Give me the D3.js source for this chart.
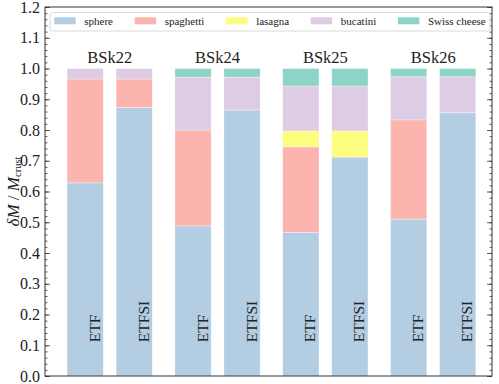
<!DOCTYPE html>
<html>
<head>
<meta charset="utf-8">
<script src="https://cdn.jsdelivr.net/npm/d3@7"></script>
<style>
  body { margin: 0; background: #fff; }
  svg { display: block; }
  svg text { font-family: "Liberation Serif", "DejaVu Serif", serif; }
</style>
</head>
<body>
<svg id="chart" width="499" height="384"></svg>
<script>
  // models and methods, one bar per (model, method)
  const models = ['BSk22', 'BSk24', 'BSk25', 'BSk26'];
  const methods = ['ETF', 'ETFSI'];
  const phases = ['sphere', 'spaghetti', 'lasagna', 'bucatini', 'Swiss cheese'];

  // fraction of crust mass per phase, bars in order BSk22 ETF, BSk22 ETFSI, BSk24 ETF, ...
  const sphere    = [0.628, 0.873, 0.488, 0.865, 0.467, 0.712, 0.510, 0.856];
  const spaghetti = [0.338, 0.093, 0.312, 0.000, 0.278, 0.000, 0.323, 0.000];
  const lasagna   = [0.000, 0.000, 0.000, 0.000, 0.052, 0.085, 0.000, 0.000];
  const bucatini  = [0.034, 0.034, 0.172, 0.107, 0.146, 0.146, 0.140, 0.117];
  const swiss     = [0.000, 0.000, 0.028, 0.028, 0.057, 0.057, 0.027, 0.027];

  const yTicks = [0, 0.1, 0.2, 0.3, 0.4, 0.5, 0.6, 0.7, 0.8, 0.9, 1.0, 1.1, 1.2];

  const colors = ['#b3cde3', '#fbb4ae', '#fcfc7e', '#decbe4', '#8dd3c7'];
  const series = [sphere, spaghetti, lasagna, bucatini, swiss];

  (function () {
    // bar positions: groups spaced 2.2 apart, methods 1 apart
    const rows = [];
    models.forEach((m, gi) => {
      methods.forEach((t, mi) => {
        const i = gi * 2 + mi;
        const row = { model: m, method: t, pos: gi * 2.2 + mi };
        phases.forEach((p, k) => { row[p] = series[k][i]; });
        rows.push(row);
      });
    });

    const svg = d3.select('#chart');
    const x0 = 45, x1 = 492, y0 = 7, y1 = 376;

    const x = d3.scaleLinear().domain([-0.82, 8.3]).range([x0, x1]);
    const y = d3.scaleLinear().domain([0, 1.2]).range([y1, y0]);
    const barW = 0.74;

    const stack = d3.stack().keys(phases)(rows);

    const g = svg.append('g');
    stack.forEach((layer, k) => {
      g.selectAll(null)
        .data(layer.filter(d => d[1] - d[0] > 0))
        .enter().append('rect')
        .attr('x', d => x(d.data.pos - barW / 2))
        .attr('width', x(barW) - x(0))
        .attr('y', d => y(d[1]))
        .attr('height', d => y(d[0]) - y(d[1]))
        .attr('fill', colors[k])
        .attr('stroke', '#fff')
        .attr('stroke-opacity', 0.6)
        .attr('stroke-width', 0.6);
    });

    // method labels inside the bars
    g.selectAll(null)
      .data(rows)
      .enter().append('text')
      .attr('transform', d => `translate(${x(d.pos) + 14.5},${y(0.11)}) rotate(-90)`)
      .attr('font-size', 15.5)
      .attr('fill', '#222')
      .text(d => d.method);

    // model labels above each pair
    g.selectAll(null)
      .data(models)
      .enter().append('text')
      .attr('x', (d, i) => x(i * 2.2 + 0.5))
      .attr('y', y(1.018))
      .attr('text-anchor', 'middle')
      .attr('font-size', 16.5)
      .attr('fill', '#222')
      .text(d => d);

    // axes: ticks inward on both sides
    const yMinor = d3.range(0, 1.2001, 0.02);
    const axisL = d3.axisLeft(y).tickValues(yTicks).tickFormat(d3.format('.1f'))
      .tickSizeInner(-5).tickSizeOuter(0).tickPadding(5);
    const axisR = d3.axisRight(y).tickValues(yTicks).tickFormat('')
      .tickSizeInner(-5).tickSizeOuter(0);
    const minorL = d3.axisLeft(y).tickValues(yMinor).tickFormat('').tickSizeInner(-2.5).tickSizeOuter(0);
    const minorR = d3.axisRight(y).tickValues(yMinor).tickFormat('').tickSizeInner(-2.5).tickSizeOuter(0);

    const gl = svg.append('g').attr('transform', `translate(${x0},0)`).call(axisL);
    svg.append('g').attr('transform', `translate(${x0},0)`).call(minorL);
    svg.append('g').attr('transform', `translate(${x1},0)`).call(axisR);
    svg.append('g').attr('transform', `translate(${x1},0)`).call(minorR);
    svg.selectAll('.domain').remove();
    svg.selectAll('.tick line').attr('stroke', '#333').attr('stroke-width', 0.8);
    gl.selectAll('text').attr('font-size', 16).attr('fill', '#222');

    // frame
    svg.append('rect')
      .attr('x', x0).attr('y', y0)
      .attr('width', x1 - x0).attr('height', y1 - y0)
      .attr('fill', 'none').attr('stroke', '#333').attr('stroke-width', 1);

    // y label
    const yl = svg.append('text')
      .attr('transform', `translate(19,${(y0 + y1) / 2}) rotate(-90)`)
      .attr('text-anchor', 'middle')
      .attr('font-size', 17)
      .attr('fill', '#222');
    yl.append('tspan').attr('font-style', 'italic').text('δM');
    yl.append('tspan').text(' / ');
    yl.append('tspan').attr('font-style', 'italic').text('M');
    yl.append('tspan').attr('font-size', 10.5).attr('dy', 1.5).text('crust');

    // legend: spread entries to fill the frame like the reference
    const lg = svg.append('g');
    lg.append('rect')
      .attr('x', 50).attr('y', 12.5).attr('width', 440).attr('height', 18.5)
      .attr('rx', 2.5)
      .attr('fill', '#fff').attr('fill-opacity', 0.8)
      .attr('stroke', '#d0d0d0').attr('stroke-width', 0.8);
    const items = phases.map((p, k) => {
      const patch = lg.append('rect')
        .attr('y', 17.3).attr('width', 21.4).attr('height', 7)
        .attr('fill', colors[k]);
      const t = lg.append('text')
        .attr('y', 24.8)
        .attr('font-size', 11).attr('fill', '#222')
        .text(p);
      return { patch, t, w: 30 + t.node().getComputedTextLength() };
    });
    const startX = 54.3, endX = 485.7;
    const gap = (endX - startX - d3.sum(items, d => d.w)) / (items.length - 1);
    let lx = startX;
    items.forEach(d => {
      d.patch.attr('x', lx);
      d.t.attr('x', lx + 30);
      lx += d.w + gap;
    });
  })();
</script>
</body>
</html>
